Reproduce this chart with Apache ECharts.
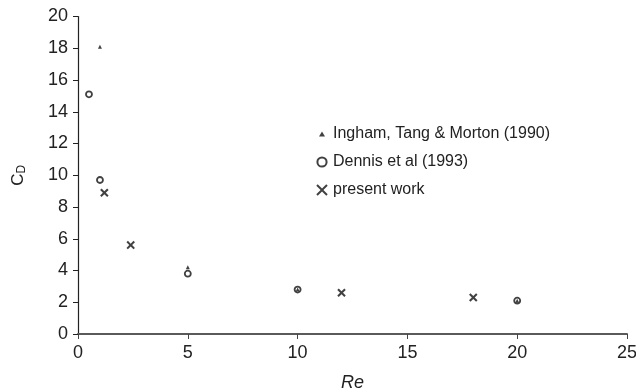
<!DOCTYPE html>
<html>
<head>
<meta charset="utf-8">
<script src="https://cdn.jsdelivr.net/npm/echarts@6/dist/echarts.min.js"></script>
<style>
  html, body { margin: 0; padding: 0; background: #fff; }
  #chart { width: 636px; height: 391px; }
</style>
</head>
<body>
<div id="chart"></div>
<script>
// Drag coefficient vs Reynolds number
const inghamRe = [1, 5, 10, 20];
const inghamCd = [18.1, 4.2, 2.8, 2.1];

const dennisRe = [0.5, 1, 5, 10, 20];
const dennisCd = [15.1, 9.7, 3.8, 2.8, 2.1];

const presentRe = [1.2, 2.4, 12, 18];
const presentCd = [8.9, 5.6, 2.6, 2.3];

const seriesNames = ['Ingham, Tang & Morton (1990)', 'Dennis et al (1993)', 'present work'];

const pairs = (xs, ys) => xs.map((x, i) => [x, ys[i]]);

// filled "x" glyph used for the present-work points
const crossPath = 'path://M0,1.7L1.7,0L5,3.3L8.3,0L10,1.7L6.7,5L10,8.3L8.3,10L5,6.7L1.7,10L0,8.3L3.3,5Z';

// legend icons drawn inside a fixed 12x12 box so each keeps its own size
const box = 'M0,0L0,0M12,12L12,12';
const legendTriangle = 'path://' + box + 'M6,3.4L9,8.6L3,8.6Z';
const legendCircle = 'path://' + box + 'M6,1.4A4.6,4.6 0 1 1 5.99,1.4Z';
const legendCross = 'path://' + box +
  'M0.3,1.7L1.7,0.3L6,4.6L10.3,0.3L11.7,1.7L7.4,6L11.7,10.3L10.3,11.7L6,7.4L1.7,11.7L0.3,10.3L4.6,6Z';

const font = 'Liberation Sans, Arial, sans-serif';

const chart = echarts.init(document.getElementById('chart'));
chart.setOption({
  animation: false,
  backgroundColor: '#fff',
  textStyle: { fontFamily: font },
  grid: { left: 78, right: 9, top: 16.5, bottom: 57, outerBoundsMode: 'none', containLabel: false },
  legend: {
    orient: 'vertical',
    left: 310,
    top: 121,
    itemGap: 12,
    itemWidth: 12,
    itemHeight: 12,
    textStyle: { fontSize: 16, color: '#222' },
    data: [
      { name: seriesNames[0], icon: legendTriangle, itemStyle: { color: '#111', borderWidth: 0 } },
      { name: seriesNames[1], icon: legendCircle, itemStyle: { color: '#fff', borderColor: '#111', borderWidth: 2 } },
      { name: seriesNames[2], icon: legendCross, itemStyle: { color: '#111', borderWidth: 0 } }
    ]
  },
  xAxis: {
    type: 'value',
    min: 0, max: 25, interval: 5,
    name: 'Re',
    nameLocation: 'middle',
    nameGap: 40,
    nameTextStyle: { fontStyle: 'italic', fontSize: 18, color: '#222' },
    axisLine: { lineStyle: { color: '#5a5a5a', width: 2 } },
    axisTick: { show: true, length: 5, lineStyle: { color: '#444', width: 1 } },
    axisLabel: { fontSize: 18, color: '#222', margin: 10 },
    splitLine: { show: false }
  },
  yAxis: {
    type: 'value',
    min: 0, max: 20, interval: 2,
    name: '{c|C}{d|D}',
    nameLocation: 'middle',
    nameRotate: 90,
    nameGap: 50,
    nameTextStyle: {
      rich: {
        c: { fontSize: 17, color: '#222', fontFamily: font },
        d: { fontSize: 12, color: '#222', fontFamily: font, padding: [8, 0, 0, 0] }
      }
    },
    axisLine: { show: true, lineStyle: { color: '#222', width: 1.2 } },
    axisTick: { show: true, length: 5, lineStyle: { color: '#222', width: 1 } },
    axisLabel: { fontSize: 18, color: '#222', margin: 10 },
    splitLine: { show: false }
  },
  series: [
    {
      name: seriesNames[0],
      type: 'scatter',
      symbol: 'triangle',
      symbolSize: 4,
      z: 3,
      itemStyle: { color: '#111' },
      data: pairs(inghamRe, inghamCd)
    },
    {
      name: seriesNames[1],
      type: 'scatter',
      symbol: 'circle',
      symbolSize: 6,
      z: 2,
      itemStyle: { color: 'transparent', borderColor: '#111', borderWidth: 1.8 },
      data: pairs(dennisRe, dennisCd)
    },
    {
      name: seriesNames[2],
      type: 'scatter',
      symbol: crossPath,
      symbolSize: 8.5,
      itemStyle: { color: '#111' },
      data: pairs(presentRe, presentCd)
    }
  ]
});
</script>
</body>
</html>
